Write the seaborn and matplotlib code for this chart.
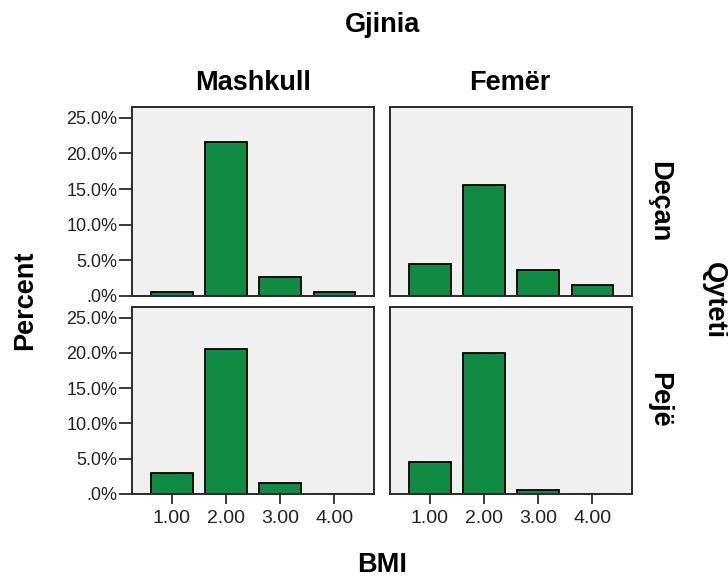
import matplotlib
matplotlib.use("Agg")
import matplotlib.pyplot as plt
import seaborn as sns
import pandas as pd

# ---- data ----
bmi_labels = ["1.00", "2.00", "3.00", "4.00"]
genders = ["Mashkull", "Femër"]
cities = ["Deçan", "Pejë"]
deqan_mashkull = [0.5, 21.6, 2.6, 0.5]
deqan_femer = [4.5, 15.6, 3.6, 1.6]
peje_mashkull = [3.0, 20.5, 1.5, 0.0]
peje_femer = [4.5, 20.0, 0.5, 0.0]
ytick_vals = [0, 5, 10, 15, 20, 25]
ytick_labels = [".0%", "5.0%", "10.0%", "15.0%", "20.0%", "25.0%"]

values = {
    ("Deçan", "Mashkull"): deqan_mashkull,
    ("Deçan", "Femër"): deqan_femer,
    ("Pejë", "Mashkull"): peje_mashkull,
    ("Pejë", "Femër"): peje_femer,
}

sns.set_theme(style="white")
plt.rcParams["font.family"] = ["Liberation Sans", "DejaVu Sans"]

W, H = 728, 580
fig = plt.figure(figsize=(W / 100, H / 100), dpi=100)

col_x = [132, 390]
col_w = 242
row_y = [(107, 296), (307, 494)]

bar_color = "#118a43"
frame_color = "#2b2b2b"

for r, city in enumerate(cities):
    for c, gender in enumerate(genders):
        y0, y1 = row_y[r]
        ax = fig.add_axes([col_x[c] / W, 1 - y1 / H, col_w / W, (y1 - y0) / H])
        df = pd.DataFrame({"BMI": bmi_labels, "Percent": values[(city, gender)]})
        sns.barplot(data=df, x="BMI", y="Percent", order=bmi_labels,
                    color=bar_color, saturation=1, width=0.765,
                    edgecolor="black", linewidth=1.3, ax=ax)
        ax.set_facecolor("#f0f0f0")
        ax.set_xlim(-0.735, 3.735)
        ax.set_ylim(0, 26.5)
        for s in ax.spines.values():
            s.set_visible(True)
            s.set_color(frame_color)
            s.set_linewidth(1.4)
        ax.set_xlabel("")
        ax.set_ylabel("")
        ax.set_yticks(ytick_vals)
        if c == 0:
            ax.set_yticklabels(ytick_labels)
            ax.tick_params(axis="y", left=True, length=9.5, width=1.3,
                           color=frame_color, labelsize=13,
                           labelcolor="#222222", pad=1)
        else:
            ax.tick_params(axis="y", left=False, labelleft=False)
        ax.set_xticks(range(len(bmi_labels)))
        if r == 1:
            ax.set_xticklabels(bmi_labels)
            ax.tick_params(axis="x", bottom=True, length=7.5, width=1.3,
                           color=frame_color, labelsize=14,
                           labelcolor="#222222", pad=4)
        else:
            ax.tick_params(axis="x", bottom=False, labelbottom=False)

# facet and axis titles
bold = dict(fontsize=19.5, fontweight="bold", color="black",
            ha="center", va="center")
fig.text(382 / W, 1 - 25 / H, "Gjinia", **bold)
fig.text(253 / W, 1 - 83 / H, "Mashkull", **bold)
fig.text(510 / W, 1 - 83 / H, "Femër", **bold)
fig.text(659 / W, 1 - 202 / H, "Deçan", rotation=-90, **bold)
fig.text(659 / W, 1 - 400 / H, "Pejë", rotation=-90, **bold)
fig.text(714 / W, 1 - 300 / H, "Qyteti", rotation=-90, **bold)
fig.text(25 / W, 1 - 300 / H, "Percent", rotation=90, **bold)
fig.text(382 / W, 1 - 565 / H, "BMI", **bold)

fig.savefig("out.png", dpi=100, facecolor="white")
